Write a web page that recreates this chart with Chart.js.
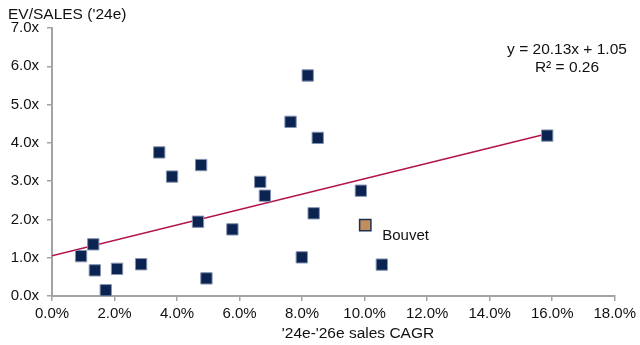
<!DOCTYPE html>
<html>
<head>
<meta charset="utf-8">
<script src="https://cdn.jsdelivr.net/npm/chart.js@4.4.1/dist/chart.umd.min.js"></script>
<style>
  html, body { margin: 0; padding: 0; background: #fff; }
  #wrap { width: 640px; height: 345px; position: relative; }
</style>
</head>
<body>
<div id="wrap"><canvas id="c"></canvas></div>
<script>
// Peer group: '24e-'26e sales CAGR (%) vs EV/SALES ('24e)
const peerCagr  = [0.93, 1.32, 1.37, 1.72, 2.08, 2.85, 3.43, 3.84, 4.67, 4.77, 4.94, 5.77, 6.66, 6.81, 7.63, 7.99, 8.18, 8.37, 8.50, 9.88, 10.55, 15.84];
const peerEvSales = [1.04, 1.35, 0.67, 0.15, 0.71, 0.83, 3.75, 3.12, 1.94, 3.42, 0.46, 1.74, 2.98, 2.62, 4.55, 1.01, 5.76, 2.16, 4.13, 2.75, 0.82, 4.19];

const focusName = 'Bouvet';
const focusCagr = [10.02];
const focusEvSales = [1.85];

// Linear fit shown on the chart
const fitSlope = 20.13;
const fitIntercept = 1.05;
const fitR2 = 0.26;
const fitRange = [0, 15.84];

const xTicks = [0, 2, 4, 6, 8, 10, 12, 14, 16, 18];
const yTicks = [0, 1, 2, 3, 4, 5, 6, 7];

const FONT = '"Liberation Sans", Arial, Helvetica, sans-serif';
const AXIS_GREY = '#a3a3a3';

const peerPoints = peerCagr.map((x, i) => ({ x, y: peerEvSales[i] }));
const focusPoints = focusCagr.map((x, i) => ({ x, y: focusEvSales[i] }));
const fitPoints = fitRange.map(x => ({ x, y: fitSlope * x / 100 + fitIntercept }));

const textPlugin = {
  id: 'chartTexts',
  afterDraw(chart) {
    const { ctx, scales } = chart;
    const xs = scales.x, ys = scales.y;
    ctx.save();
    ctx.fillStyle = '#111';
    ctx.font = '15.5px ' + FONT;
    ctx.textBaseline = 'middle';

    // y-axis title, top left
    ctx.textAlign = 'left';
    ctx.fillText("EV/SALES ('24e)", 8, 15);

    // x-axis title
    ctx.textAlign = 'center';
    ctx.fillText("'24e-'26e sales CAGR", 358, 334);

    // regression equation
    ctx.fillText('y = ' + fitSlope.toFixed(2) + 'x + ' + fitIntercept.toFixed(2), 567, 50);
    ctx.fillText('R\u00B2 = ' + fitR2.toFixed(2), 567, 68);

    // highlighted company label
    ctx.textAlign = 'left';
    ctx.font = '15px ' + FONT;
    const px = xs.getPixelForValue(focusCagr[0]);
    const py = ys.getPixelForValue(focusEvSales[0]);
    ctx.fillText(focusName, px + 17, py + 11);
    ctx.restore();
  }
};

new Chart(document.getElementById('c'), {
  type: 'scatter',
  data: {
    datasets: [
      {
        type: 'line',
        label: 'fit',
        data: fitPoints,
        borderColor: '#b3134d',
        borderWidth: 1.5,
        pointRadius: 0,
        fill: false,
        order: 2
      },
      {
        label: 'peers',
        data: peerPoints,
        pointStyle: 'rect',
        pointRadius: 8,
        backgroundColor: '#0b2350',
        borderColor: '#8593b0',
        borderWidth: 1,
        order: 1
      },
      {
        label: focusName,
        data: focusPoints,
        pointStyle: 'rect',
        pointRadius: 8,
        backgroundColor: '#c38e5e',
        borderColor: '#1f3152',
        borderWidth: 1.5,
        order: 0
      }
    ]
  },
  options: {
    responsive: true,
    maintainAspectRatio: false,
    animation: false,
    events: [],
    layout: { padding: { left: 0, right: 24, top: 28, bottom: 0 } },
    plugins: { legend: { display: false }, tooltip: { enabled: false } },
    scales: {
      x: {
        type: 'linear',
        min: 0, max: 18,
        afterBuildTicks(scale) { scale.ticks = xTicks.map(v => ({ value: v })); },
        afterFit(scale) { scale.height = 49; },
        ticks: {
          color: '#111',
          font: { family: FONT, size: 15 },
          padding: 4,
          maxRotation: 0,
          callback: v => v.toFixed(1) + '%'
        },
        grid: { display: true, drawOnChartArea: false, drawTicks: true, tickLength: 5, color: AXIS_GREY, lineWidth: 1.5 },
        border: { display: true, color: AXIS_GREY, width: 2 }
      },
      y: {
        type: 'linear',
        min: 0, max: 7,
        afterBuildTicks(scale) { scale.ticks = yTicks.map(v => ({ value: v })); },
        afterFit(scale) { scale.width = 52; },
        ticks: {
          color: '#111',
          font: { family: FONT, size: 15 },
          padding: 8,
          callback: v => v.toFixed(1) + 'x'
        },
        grid: { display: true, drawOnChartArea: false, drawTicks: true, tickLength: 5, color: AXIS_GREY, lineWidth: 1.5 },
        border: { display: true, color: AXIS_GREY, width: 2 }
      }
    }
  },
  plugins: [textPlugin]
});
</script>
</body>
</html>
